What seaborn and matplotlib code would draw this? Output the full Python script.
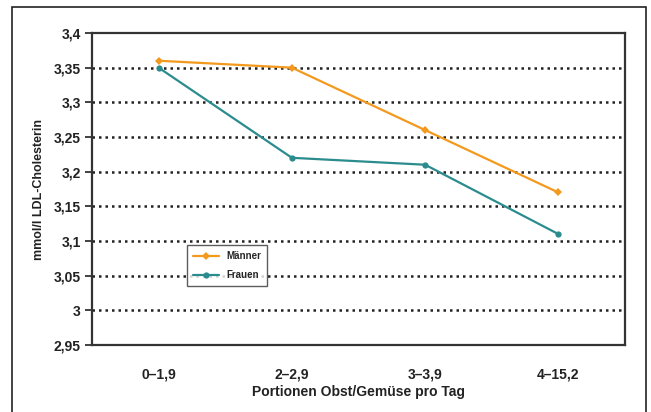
import pandas as pd
import numpy as np
import seaborn as sns
import matplotlib.pyplot as plt
from matplotlib.patches import Rectangle

# Werte
kategorien = ["0–1,9", "2–2,9", "3–3,9", "4–15,2"]
maenner = [3.36, 3.35, 3.26, 3.17]
frauen = [3.35, 3.22, 3.21, 3.11]
y_ticks = [2.95, 3.0, 3.05, 3.1, 3.15, 3.2, 3.25, 3.3, 3.35, 3.4]
y_labels = ["2,95", "3", "3,05", "3,1", "3,15", "3,2", "3,25", "3,3", "3,35", "3,4"]

df = pd.DataFrame({
    "Portionen": kategorien * 2,
    "LDL": maenner + frauen,
    "Gruppe": ["Männer"] * 4 + ["Frauen"] * 4,
})

sns.set_style("white")
plt.rcParams["font.family"] = ["Liberation Sans", "DejaVu Sans"]

fig = plt.figure(figsize=(6.51, 4.12), dpi=100)
ax = fig.add_axes([92 / 651, 1 - 345 / 412, 533 / 651, 312 / 412])

farben = {"Männer": "#F39A1E", "Frauen": "#2B8C8E"}
sns.lineplot(data=df, x="Portionen", y="LDL", hue="Gruppe", palette=farben,
             style="Gruppe", markers={"Männer": "D", "Frauen": "o"}, dashes=False,
             markersize=4.5, markeredgewidth=0, linewidth=1.6, ax=ax)

ax.set_xlim(-0.5, 3.5)
ax.set_ylim(2.95, 3.4)
ax.set_yticks(y_ticks)
ax.set_yticklabels(y_labels, fontsize=10, fontweight="bold", color="#222222")
ax.set_xticks(range(4))
ax.set_xticklabels(kategorien, fontsize=10, fontweight="bold", color="#222222")
ax.set_xticks(np.arange(-0.5, 4, 1), minor=True)
ax.tick_params(axis="x", which="major", length=0, pad=16)
ax.tick_params(axis="x", which="minor", length=5, width=1.3, direction="out", color="#333333")
ax.tick_params(axis="y", length=5, width=1.3, direction="out", color="#333333", left=True, pad=3)

ax.yaxis.grid(True, linestyle=(0, (1, 1.6)), linewidth=1.8, color="#222222")
gl = ax.yaxis.get_gridlines()
gl[0].set_visible(False)
gl[-1].set_visible(False)
ax.set_axisbelow(True)
for s in ax.spines.values():
    s.set_color("#333333")
    s.set_linewidth(1.6)

ax.set_xlabel("Portionen Obst/Gemüse pro Tag", fontsize=10, fontweight="bold", color="#222222", labelpad=3)
ax.set_ylabel("mmol/l LDL-Cholesterin", fontsize=9, fontweight="bold", color="#222222", labelpad=6)

leg = ax.legend(loc="upper left", bbox_to_anchor=(0.17, 0.335), fontsize=7,
                frameon=True, fancybox=False, edgecolor="#333333",
                handlelength=2.6, borderpad=0.6, labelspacing=0.9)
leg.get_frame().set_linewidth(1.0)
for t in leg.get_texts():
    t.set_fontweight("bold")

fig.patches.append(Rectangle((12 / 651, -0.05), 634 / 651, 1 - 7 / 412 + 0.05,
                             transform=fig.transFigure, fill=False,
                             edgecolor="#222222", linewidth=1.2))

fig.savefig("out.png", dpi=100)
